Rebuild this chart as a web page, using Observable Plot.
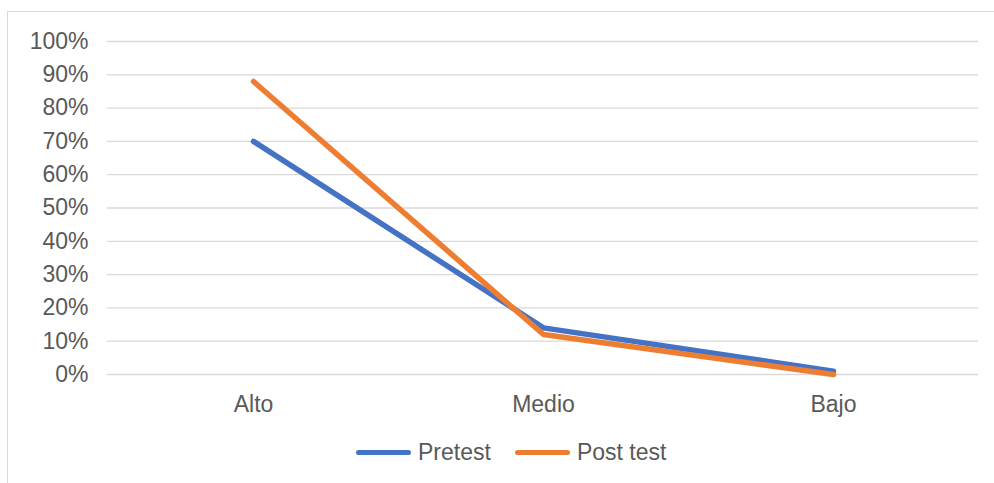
<!DOCTYPE html>
<html>
<head>
<meta charset="utf-8">
<script src="https://cdn.jsdelivr.net/npm/d3@7"></script>
<script src="https://cdn.jsdelivr.net/npm/@observablehq/plot@0.6"></script>
<style>
  html, body { margin: 0; padding: 0; background: #fff; overflow: hidden; }
  body { width: 994px; height: 483px; position: relative; font-family: "Liberation Sans", Arial, sans-serif; }
  #frame { position: absolute; left: 7px; top: 11px; width: 1000px; height: 480px;
           border-left: 1px solid #d9d9d9; border-top: 1px solid #d9d9d9; }
  #chart { position: absolute; left: 8px; top: 12px; }
  #legend { position: absolute; left: 356px; top: 439px; display: flex; align-items: center;
            font-size: 23px; color: #595959; white-space: nowrap; }
  .item { display: flex; align-items: center; }
  .sw { width: 55px; height: 5px; border-radius: 3px; margin-right: 7px; }
</style>
</head>
<body>
<div id="frame"></div>
<div id="chart"></div>
<div id="legend"></div>
<script>
const categories = ["Alto", "Medio", "Bajo"];
const seriesNames = ["Pretest", "Post test"];
const pretest = [0.70, 0.14, 0.01];
const posttest = [0.88, 0.12, 0.00];
const yTicks = [0, 0.1, 0.2, 0.3, 0.4, 0.5, 0.6, 0.7, 0.8, 0.9, 1.0];
const colors = ["#4472C4", "#ED7D31"];

const data = [];
categories.forEach((c, i) => {
  data.push({cat: c, series: seriesNames[0], value: pretest[i]});
});
categories.forEach((c, i) => {
  data.push({cat: c, series: seriesNames[1], value: posttest[i]});
});

const chart = Plot.plot({
  width: 986,
  height: 410,
  marginLeft: 99,
  marginRight: 16,
  marginTop: 29,
  marginBottom: 48,
  style: {fontFamily: "'Liberation Sans', Arial, sans-serif", fontSize: "23px", color: "#595959", background: "transparent"},
  x: {type: "point", domain: categories, padding: 0.5, label: null},
  y: {domain: [0, 1], label: null},
  color: {domain: seriesNames, range: colors},
  marks: [
    Plot.ruleY(yTicks, {stroke: "#d9d9d9", strokeWidth: 1.3}),
    Plot.axisY({ticks: yTicks, tickFormat: d3.format(".0%"), tickSize: 0, tickPadding: 19, label: null, fill: "#595959"}),
    Plot.axisX({tickSize: 0, tickPadding: 21, label: null, fill: "#595959"}),
    Plot.line(data, {x: "cat", y: "value", z: "series", stroke: "series", strokeWidth: 5.5,
                     strokeLinecap: "round", strokeLinejoin: "round"})
  ]
});
document.getElementById("chart").appendChild(chart);

const legend = document.getElementById("legend");
seriesNames.forEach((s, i) => {
  const item = document.createElement("div");
  item.className = "item";
  if (i > 0) item.style.marginLeft = "24px";
  const sw = document.createElement("div");
  sw.className = "sw";
  sw.style.background = colors[i];
  const t = document.createElement("span");
  t.textContent = s;
  item.appendChild(sw);
  item.appendChild(t);
  legend.appendChild(item);
});
</script>
</body>
</html>
